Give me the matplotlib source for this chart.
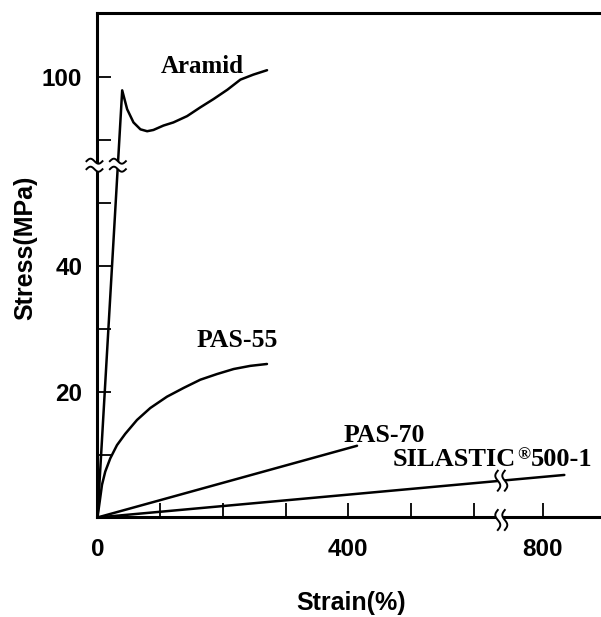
import matplotlib

matplotlib.use("Agg")
import matplotlib.pyplot as plt
import matplotlib.transforms as mtransforms
from matplotlib.lines import Line2D
from matplotlib.patches import Polygon
import numpy as np

# stress-strain curves (strain in %, stress in MPa)
strain_aramid = [0, 39.4, 47.3, 57.4, 68.5, 79.2, 89.2, 105.2, 121.1, 142.9,
                 164.1, 184.9, 207.2, 227.9, 248.6, 270.4]
stress_aramid = [0, 97.9, 94.9, 92.8, 91.7, 91.4, 91.6, 92.3, 92.8, 93.8,
                 95.2, 96.5, 98.0, 99.6, 100.4, 101.1]

strain_pas55 = [0, 3.5, 7.2, 12.4, 20.4, 31.1, 44.3, 63.0, 84.2, 110.8,
                137.5, 164.0, 190.6, 217.2, 243.7, 270.3]
stress_pas55 = [0, 2.5, 5.2, 7.3, 9.4, 11.5, 13.3, 15.5, 17.4, 19.2,
                20.6, 21.9, 22.8, 23.6, 24.1, 24.4]

strain_pas70 = [0, 413.9]
stress_pas70 = [0, 11.4]

strain_silastic = [0, 834.5]
stress_silastic = [0, 6.76]

x_ticks = [0, 100, 200, 300, 400, 500, 600, 800]
x_tick_labels = ["0", "", "", "", "400", "", "", "800"]
y_ticks = [10, 20, 30, 40, 50, 90, 100]
y_tick_labels = ["", "20", "", "40", "", "", "100"]

# broken axes: values above the break are shifted down by the gap
X_BREAK, X_GAP = 644.0, 90.0
Y_BREAK, Y_GAP = 56.0, 30.0


def _forward(brk, gap):
    def f(v):
        v = np.asarray(v, dtype=float)
        return np.where(v <= brk, v, np.maximum(v - gap, brk))
    return f


def _inverse(brk, gap):
    def f(v):
        v = np.asarray(v, dtype=float)
        return np.where(v <= brk, v, v + gap)
    return f


fx, fx_inv = _forward(X_BREAK, X_GAP), _inverse(X_BREAK, X_GAP)
fy, fy_inv = _forward(Y_BREAK, Y_GAP), _inverse(Y_BREAK, Y_GAP)


def _break_mark(ax, x, y, vertical=False, size=0.16, gap=0.08, amp=0.025,
                dx=0.0, dy=0.0):
    t = np.linspace(-1, 1, 40)
    wave = -amp * np.sin(np.pi * t)
    along = t * size / 2
    if vertical:
        a = np.column_stack([wave + gap / 2 + dx, along + dy])
        b = np.column_stack([wave - gap / 2 + dx, along + dy])
    else:
        a = np.column_stack([along + dx, wave + gap / 2 + dy])
        b = np.column_stack([along + dx, wave - gap / 2 + dy])
    trans = ax.figure.dpi_scale_trans + mtransforms.ScaledTranslation(x, y, ax.transData)
    ax.add_patch(Polygon(np.vstack([a, b[::-1]]), closed=True, facecolor="white",
                         edgecolor="none", transform=trans, clip_on=False, zorder=5))
    for side in (a, b):
        ax.add_line(Line2D(side[:, 0], side[:, 1], color="black", linewidth=1.4,
                           transform=trans, clip_on=False, zorder=6))


plt.rcParams["font.family"] = ["Liberation Sans", "DejaVu Sans"]
plt.rcParams["font.weight"] = "bold"

fig = plt.figure(figsize=(6.01, 6.17), dpi=100)
ax = fig.add_axes([0.1622, 0.1613, 0.8378, 0.8177])
ax.set_xscale("function", functions=(fx, fx_inv))
ax.set_yscale("function", functions=(fy, fy_inv))

line_kw = dict(color="black", linewidth=1.8, solid_capstyle="round",
               solid_joinstyle="round")
ax.plot(strain_aramid, stress_aramid, **line_kw)
ax.plot(strain_pas55, stress_pas55, **line_kw)
ax.plot(strain_pas70, stress_pas70, **line_kw)
ax.plot(strain_silastic, stress_silastic, **line_kw)

serif = dict(family="Liberation Serif", weight="bold", va="baseline")
ax.text(166.7, 100.7, "Aramid", ha="center", size=18, **serif)
ax.text(222.5, 27.1, "PAS-55", ha="center", size=18.5, **serif)
ax.text(457.0, 12.0, "PAS-70", ha="center", size=18.5, **serif)
sil = ax.text(471.3, 8.19, "SILASTIC", ha="left", size=19, **serif)
reg = ax.annotate("®", xy=(1, 1), xycoords=sil, xytext=(0.5, 0.5),
                  textcoords="offset points", ha="left", va="top",
                  family="Liberation Serif", weight="bold", size=12.5)
ax.annotate("500-1", xy=(1, 0), xycoords=(reg, sil), xytext=(0.5, 0),
            textcoords="offset points", ha="left", va="bottom",
            family="Liberation Serif", weight="bold", size=19)

ax.set_xticks(x_ticks, x_tick_labels)
ax.set_yticks(y_ticks, y_tick_labels)
ax.set_xlim(0, 893)
ax.set_ylim(0, 110.2)

ax.spines["right"].set_visible(False)
for spine in ax.spines.values():
    spine.set_linewidth(2.2)
ax.tick_params(direction="in", length=10, width=1.3, labelsize=17.5,
               top=False, right=False)
ax.tick_params(axis="x", pad=15)
ax.tick_params(axis="y", pad=11)

# break marks on the axes and on the curves that cross a break
_break_mark(ax, 0, Y_BREAK, dx=-0.03)
x_ar = np.interp(Y_BREAK, fy(stress_aramid[:2]), fx(strain_aramid[:2]))
_break_mark(ax, float(fx_inv(x_ar)), Y_BREAK)
_break_mark(ax, X_BREAK, 0, vertical=True, size=0.2, gap=0.07, dy=-0.025)
y_sil = np.interp(X_BREAK, fx(strain_silastic), fy(stress_silastic))
_break_mark(ax, X_BREAK, float(fy_inv(y_sil)), vertical=True, size=0.2, gap=0.07)

fig.text(351 / 601, 1 - 603 / 617, "Strain(%)", ha="center", va="center", size=18)
fig.text(25 / 601, 1 - 248 / 617, "Stress(MPa)", ha="center", va="center",
         size=18, rotation=90)

fig.savefig("out.png", dpi=100)
plt.close(fig)
